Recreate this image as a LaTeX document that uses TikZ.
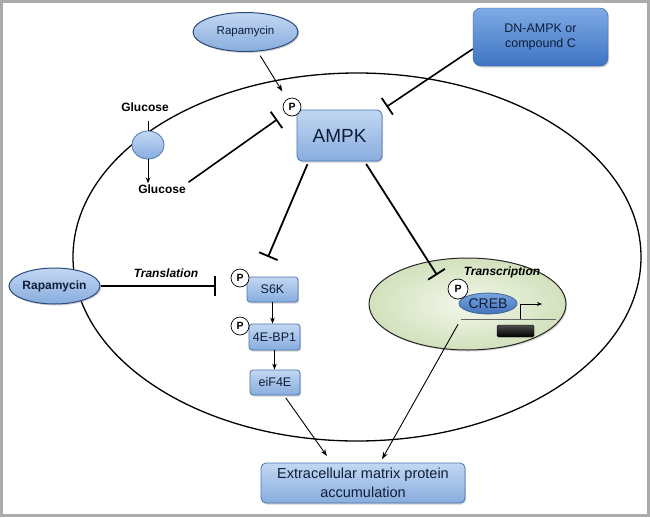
\documentclass[tikz,border=0pt]{standalone}
\usepackage{fontspec}
\setmainfont{Liberation Sans}
\usetikzlibrary{arrows.meta,shapes.geometric,shadows,calc}
\definecolor{boxtop}{HTML}{C2D7F3}
\definecolor{boxbot}{HTML}{88ADDE}
\definecolor{boxedge}{HTML}{4A76AC}
\definecolor{navy}{HTML}{0F1E38}
\definecolor{dntop}{HTML}{7EABE6}
\definecolor{dnbot}{HTML}{3E74C2}
\definecolor{rapedge}{HTML}{2B4A78}
\definecolor{crebtop}{HTML}{78A4E0}
\definecolor{crebbot}{HTML}{4373BC}
\definecolor{nucin}{HTML}{F3F7EC}
\definecolor{nucout}{HTML}{D2E1BC}
\begin{document}
\begin{tikzpicture}[x=1pt,y=-1pt,
  bluebox/.style={rectangle, rounded corners=3pt, draw=boxedge, line width=0.8pt,
    top color=boxtop, bottom color=boxbot, inner sep=0pt, text=navy,
    font=\fontsize{12.5}{14}\selectfont,
    drop shadow={opacity=0.35, shadow xshift=1.2pt, shadow yshift=-1.5pt}},
  rapell/.style={ellipse, draw=rapedge, line width=1pt, top color=boxtop, bottom color=boxbot,
    inner sep=0pt, text=navy, drop shadow={opacity=0.35, shadow xshift=1.2pt, shadow yshift=-1.5pt}},
  pcirc/.style={circle, draw=black, line width=0.7pt, fill=white, inner sep=0pt,
    minimum size=18pt, font=\fontsize{10.5}{11}\selectfont\bfseries},
  lbl/.style={font=\fontsize{12}{14}\selectfont\bfseries, inner sep=1pt},
  ilbl/.style={font=\fontsize{12}{14}\selectfont\bfseries\itshape, inner sep=1pt},
  inh/.style={line width=1.8pt, -{Bar[width=20pt, line width=1.8pt]}},
  arr/.style={line width=0.9pt, -{Stealth[length=7pt, width=5pt]}},
  sarr/.style={line width=0.9pt, -{Stealth[length=6pt, width=4.5pt]}}
]
\useasboundingbox (0,0) rectangle (650,517);
\fill[white] (0,0) rectangle (650,517);
\draw[line width=3pt, black!33] (1.5,1.5) rectangle (648.5,515.5);

% cell
\node[ellipse, draw=black, line width=1.3pt, minimum width=568pt, minimum height=368pt, inner sep=0pt] (cell) at (357,257) {};

% nucleus
\node[ellipse, draw=black!85, line width=1pt, inner color=nucin, outer color=nucout,
  minimum width=197pt, minimum height=92pt, inner sep=0pt,
  drop shadow={opacity=0.3, shadow xshift=1.2pt, shadow yshift=-1.5pt}] (nuc) at (467.5,304) {};
\node[ilbl] (transcr) at (502,272) {Transcription};

% top nodes
\node[rapell, minimum width=105pt, minimum height=39pt, font=\fontsize{11.5}{13}\selectfont] (rapT) at (245.5,32) {Rapamycin};
\node[rectangle, rounded corners=8pt, top color=dntop, bottom color=dnbot, draw=dnbot!80!black, line width=0.4pt,
  minimum width=135pt, minimum height=58pt, inner sep=0pt, align=center, text=navy,
  font=\fontsize{12.5}{14.5}\selectfont,
  drop shadow={opacity=0.35, shadow xshift=1.2pt, shadow yshift=-1.5pt}] (dn) at (540.5,37) {DN-AMPK or\\compound C};
\node[bluebox, rounded corners=5pt, minimum width=85pt, minimum height=51pt, font=\fontsize{19}{21}\selectfont] (ampk) at (339.5,135.5) {AMPK};
\node[pcirc] (pA) at (292,107) {P};

% glucose
\node[lbl] (glu1) at (145,107) {Glucose};
\node[ellipse, draw=boxedge, line width=0.8pt, top color=boxtop, bottom color=boxbot,
  minimum width=32pt, minimum height=28pt, inner sep=0pt] (tr) at (148,145) {};
\node[lbl] (glu2) at (162,189) {Glucose};

% translation side
\node[rapell, minimum width=91pt, minimum height=36pt, font=\fontsize{12}{14}\selectfont\bfseries] (rapL) at (54.5,286) {Rapamycin};
\node[ilbl] (transl) at (166,273) {Translation};
\node[bluebox, minimum width=51pt, minimum height=25pt] (s6k) at (272.5,289.5) {S6K};
\node[pcirc] (pS) at (240,278) {P};
\node[bluebox, minimum width=51pt, minimum height=26pt] (bp1) at (274.5,337) {4E-BP1};
\node[pcirc] (pB) at (240,326) {P};
\node[bluebox, minimum width=50pt, minimum height=25pt] (eif) at (275,382.5) {eiF4E};

% CREB
\node[ellipse, draw=boxedge!80!black, line width=0.7pt, top color=crebtop, bottom color=crebbot,
  minimum width=58pt, minimum height=21pt, inner sep=0pt, text=navy,
  font=\fontsize{14}{15}\selectfont] (creb) at (488,303.5) {CREB};
\node[pcirc, minimum size=20pt] (pC) at (458,289) {P};
\coordinate (dnaL) at (461,319);
\coordinate (dnaR) at (556,319);
\draw[black!60, line width=1pt] (dnaL) -- (dnaR);
\coordinate (prom) at (520,318.5);
\coordinate (promEnd) at (542,304);
\draw[line width=0.9pt, -{Stealth[length=5pt, width=4pt]}] (prom) |- (promEnd);
\node[rectangle, rounded corners=1.5pt, draw=black, top color=black!70, bottom color=black,
  minimum width=37pt, minimum height=12pt, inner sep=0pt] (gene) at (515.5,331) {};

% bottom
\node[bluebox, rounded corners=5pt, minimum width=204pt, minimum height=40pt, align=center,
  font=\fontsize{14.5}{18.5}\selectfont] (ecm) at (363,483) {Extracellular matrix protein\\accumulation};

% connectors
\draw[arr, shorten <=5pt, shorten >=9pt] (rapT) -- (pA);
\draw[inh, line width=1.6pt, shorten >=5pt] (dn.190) -- (ampk.north east);
\draw[inh, line width=1.6pt, shorten <=2pt, shorten >=10pt] (glu2.north east) -- (pA.south west);
\draw[line width=1pt, shorten >=8pt] (tr.north) -- (tr.north |- glu1.south);
\draw[sarr] (tr.south) -- (tr.south |- glu2.north);

\coordinate (s6kInh) at (268,257);
\coordinate (crebInh) at (437,275);
\draw[inh, shorten <=3pt] (ampk.220) -- (s6kInh);
\draw[inh, shorten <=3pt] (ampk.-46) -- (crebInh);
\draw[inh, line width=1.5pt, shorten >=15pt] (rapL.east) -- (rapL.east -| pS.west);

\draw[sarr] (s6k.south) -- (s6k.south |- bp1.north);
\draw[sarr] (bp1.south) -- (bp1.south |- eif.north);
\draw[arr, shorten <=3pt, shorten >=8pt] (eif.-55) -- (ecm.147);
\draw[arr, shorten <=6pt, shorten >=4pt] (dnaL) -- (ecm.50);
\end{tikzpicture}
\end{document}
